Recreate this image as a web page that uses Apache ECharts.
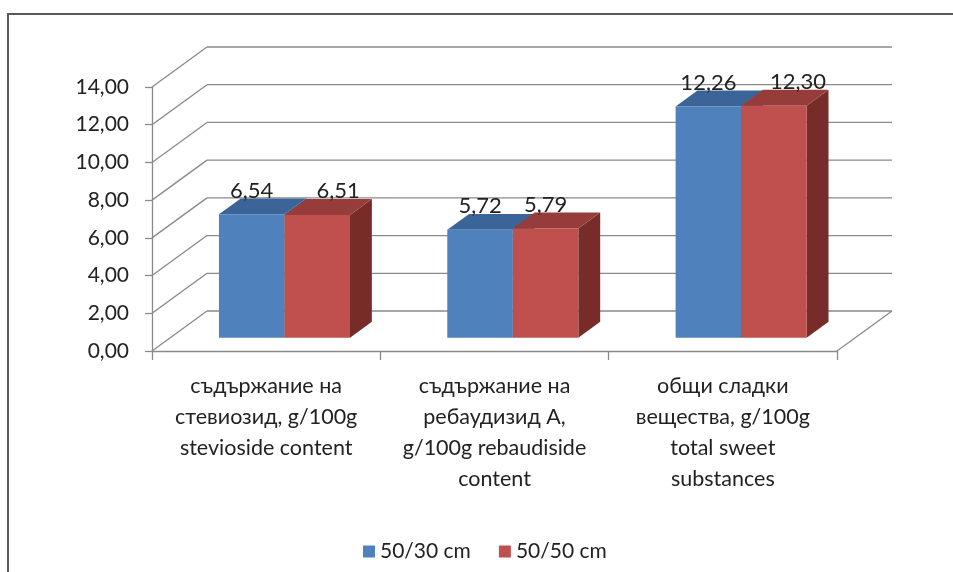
<!DOCTYPE html>
<html>
<head>
<meta charset="utf-8">
<script src="https://cdn.jsdelivr.net/npm/echarts@6/dist/echarts.min.js"></script>
<style>
  html, body { margin: 0; padding: 0; background: #fff; }
  #chart { width: 953px; height: 572px; }
</style>
</head>
<body>
<div id="chart"></div>
<script>
// Categories (Bulgarian / English captions)
const categories = [
  'съдържание на\nстевиозид, g/100g\nstevioside content',
  'съдържание на\nребаудизид А,\ng/100g rebaudiside\ncontent',
  'общи сладки\nвещества, g/100g\ntotal sweet\nsubstances'
];
const seriesNames = ['50/30 cm', '50/50 cm'];
const values5030 = [6.54, 5.72, 12.26];
const values5050 = [6.51, 5.79, 12.30];

// Value axis range
const yMin = 0, yMax = 14, yStep = 2;

// Pseudo-3D projection: offset of the back wall relative to the front plane
const DX = 55, DY = -40;
const F0 = 0.333, F1 = 0.73;       // bar front / back depth fractions
const BAR_RATIO = 0.287;           // bar width as share of a category band
const FONT = 'Lato, "Noto Sans", sans-serif';
const TEXT = '#222';
const WALL = '#8a8a8a';

const palette = [
  { front: '#4F81BD', top: '#3B6598', side: '#30557F' },
  { front: '#C0504D', top: '#963D3B', side: '#772C2A' }
];
// extra horizontal shift of some value labels, per category [first, second]
const labelShift = [[0, 21], [0, 0], [0, 24]];

const fmt = v => v.toFixed(2).replace('.', ',');

const wallValues = [];
for (let v = yMin; v <= yMax; v += yStep) wallValues.push(v);

function seg(x1, y1, x2, y2) {
  return {
    type: 'line',
    shape: { x1, y1, x2, y2 },
    style: { stroke: WALL, lineWidth: 1.3 }
  };
}

function renderWall(params, api) {
  const v = api.value(1);
  const p = api.coord([0, v]);
  const band = api.size([1, 0])[0];
  const xL = p[0] - band / 2;
  const xR = xL + band * categories.length;
  const y = p[1];
  const children = [
    seg(xL, y, xL + DX, y + DY),
    seg(xL + DX, y + DY, xR + DX, y + DY)
  ];
  if (v === yMin) children.push(seg(xR, y, xR + DX, y + DY));
  return { type: 'group', children };
}

function makeBarRenderer(s) {
  return function (params, api) {
    const i = api.value(0);
    const v = api.value(1);
    const base = api.coord([i, 0]);
    const topPt = api.coord([i, v]);
    const band = api.size([1, 0])[0];
    const w = band * BAR_RATIO;
    const ox = DX * F0, oy = DY * F0;
    const dx = DX * (F1 - F0), dy = DY * (F1 - F0);
    const left = base[0] + ox + (s === 0 ? -w : 0);
    const right = left + w;
    const yb = base[1] + oy;
    const yt = topPt[1] + oy;
    const c = palette[s];
    return {
      type: 'group',
      children: [
        { type: 'polygon', shape: { points: [[right, yt], [right + dx, yt + dy], [right + dx, yb + dy], [right, yb]] }, style: { fill: c.side } },
        { type: 'polygon', shape: { points: [[left, yt], [right, yt], [right + dx, yt + dy], [left + dx, yt + dy]] }, style: { fill: c.top } },
        { type: 'rect', shape: { x: left, y: yt, width: w, height: yb - yt }, style: { fill: c.front } },
        {
          type: 'text',
          x: (left + right) / 2 + labelShift[i][s],
          y: yt + dy - 8,
          style: {
            text: fmt(v), fill: TEXT, font: '22px ' + FONT,
            align: 'center', verticalAlign: 'middle'
          }
        }
      ]
    };
  };
}

const chart = echarts.init(document.getElementById('chart'), null, { renderer: 'canvas' });
chart.setOption({
  backgroundColor: '#fff',
  animation: false,
  graphic: [{
    type: 'polyline',
    shape: { points: [[8, 572], [8, 14], [953, 14]] },
    style: { stroke: '#5a5a5a', lineWidth: 2, fill: null },
    silent: true
  }],
  grid: { left: 152, top: 87, width: 685, height: 264, containLabel: false },
  legend: {
    data: seriesNames,
    left: 358,
    top: 536,
    icon: 'rect',
    itemWidth: 12,
    itemHeight: 12,
    itemGap: 28,
    textStyle: { fontFamily: FONT, fontSize: 21, color: TEXT }
  },
  xAxis: {
    type: 'category',
    data: categories,
    boundaryGap: true,
    axisLine: { show: true, lineStyle: { color: WALL, width: 1.3 } },
    axisTick: { show: true, interval: 0, length: 9, alignWithLabel: false, lineStyle: { color: WALL, width: 1.3 } },
    axisLabel: {
      interval: 0, margin: 20, fontFamily: FONT, fontSize: 21.5,
      lineHeight: 31, color: TEXT, align: 'center'
    },
    splitLine: { show: false }
  },
  yAxis: {
    type: 'value',
    min: yMin, max: yMax, interval: yStep,
    axisLine: { show: true, lineStyle: { color: WALL, width: 1.3 } },
    axisTick: { show: true, length: 7, lineStyle: { color: WALL, width: 1.3 } },
    axisLabel: { margin: 23, fontFamily: FONT, fontSize: 21, color: TEXT, formatter: fmt },
    splitLine: { show: false }
  },
  series: [
    {
      type: 'custom', name: 'wall', silent: true, clip: false, z: 1,
      renderItem: renderWall,
      data: wallValues.map(v => [0, v])
    },
    {
      type: 'custom', name: seriesNames[0], clip: false, z: 2,
      itemStyle: { color: palette[0].front },
      renderItem: makeBarRenderer(0),
      data: values5030.map((v, i) => [i, v])
    },
    {
      type: 'custom', name: seriesNames[1], clip: false, z: 2,
      itemStyle: { color: palette[1].front },
      renderItem: makeBarRenderer(1),
      data: values5050.map((v, i) => [i, v])
    }
  ]
});
</script>
</body>
</html>
